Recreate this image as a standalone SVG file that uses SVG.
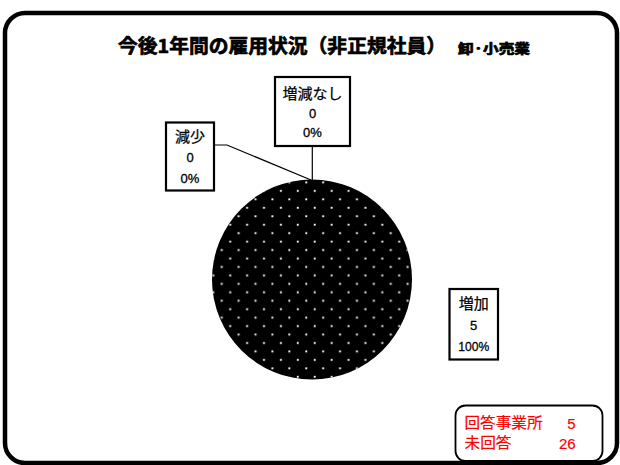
<svg xmlns="http://www.w3.org/2000/svg" width="620" height="465" viewBox="0 0 620 465">
<style>
.jp{font-family:"Noto Sans CJK JP","Liberation Sans",sans-serif;}
.num{font-family:"Liberation Sans","Noto Sans CJK JP",sans-serif;}
.lbl{font-size:15px;fill:#000;text-anchor:middle;stroke:#000;stroke-width:0.25;}
.val{font-size:13px;fill:#000;text-anchor:middle;stroke:#000;stroke-width:0.3;}
.box{fill:#fff;stroke:#000;stroke-width:2.2;}
.red{fill:#ff0000;font-size:15px;stroke:#ff0000;stroke-width:0.2;}
.conn{fill:none;stroke:#000;stroke-width:1.2;}
.ttl{fill:#000;stroke:#000;stroke-width:0.7;font-weight:bold;}
</style>
<defs>
<pattern id="dots" patternUnits="userSpaceOnUse" x="217.5" y="245.8" width="16.9" height="16.9">
<rect x="3.3" y="3.3" width="1.9" height="1.9" fill="#fff"/>
<rect x="11.75" y="11.75" width="1.9" height="1.9" fill="#fff"/>
</pattern>
</defs>
<rect x="0" y="0" width="620" height="465" fill="#fff"/>
<rect id="frame" x="5" y="13" width="612" height="450" rx="20" ry="20" fill="#fff" stroke="#000" stroke-width="4.5"/>
<g id="title">
<text class="jp ttl" x="118" y="53" font-size="19" textLength="328" lengthAdjust="spacingAndGlyphs">今後1年間の雇用状況（非正規社員）</text>
<text class="jp ttl" x="458" y="53" font-size="13" textLength="72" lengthAdjust="spacingAndGlyphs">卸·小売業</text>
</g>
<g id="pie">
<circle cx="312" cy="279.5" r="100" fill="#000"/>
<circle cx="312" cy="279.5" r="100" fill="url(#dots)"/>
</g>
<g id="connectors">
<polyline class="conn" points="214.5,145 227,145 311,180"/>
<line class="conn" x1="312.3" y1="147" x2="312.3" y2="180"/>
</g>
<g id="node-genshou">
<rect class="box" x="166" y="122.5" width="48" height="68"/>
<text class="jp lbl" x="190" y="141.8">減少</text>
<text class="num val" x="190" y="162.3">0</text>
<text class="num val" x="190" y="182.7">0%</text>
</g>
<g id="node-nashi">
<rect class="box" x="275" y="77" width="75" height="69"/>
<text class="jp lbl" x="312.5" y="98.5">増減なし</text>
<text class="num val" x="312.5" y="117.7">0</text>
<text class="num val" x="312.5" y="136.7">0%</text>
</g>
<g id="node-zouka">
<rect class="box" x="449.5" y="289" width="48.5" height="70.5"/>
<text class="jp lbl" x="473.7" y="308.5">増加</text>
<text class="num val" x="473.7" y="330">5</text>
<text class="num val" x="473.7" y="351" textLength="31" lengthAdjust="spacingAndGlyphs">100%</text>
</g>
<g id="legend">
<rect x="455.5" y="405.5" width="147" height="55.5" rx="10" ry="10" fill="#fff" stroke="#000" stroke-width="1.8"/>
<text class="jp red" x="464.5" y="428" textLength="78" lengthAdjust="spacingAndGlyphs">回答事業所</text>
<text class="num red" x="575.7" y="428.5" text-anchor="end">5</text>
<text class="jp red" x="464.5" y="448" textLength="47" lengthAdjust="spacingAndGlyphs">未回答</text>
<text class="num red" x="575.7" y="448.5" text-anchor="end">26</text>
</g>
</svg>
